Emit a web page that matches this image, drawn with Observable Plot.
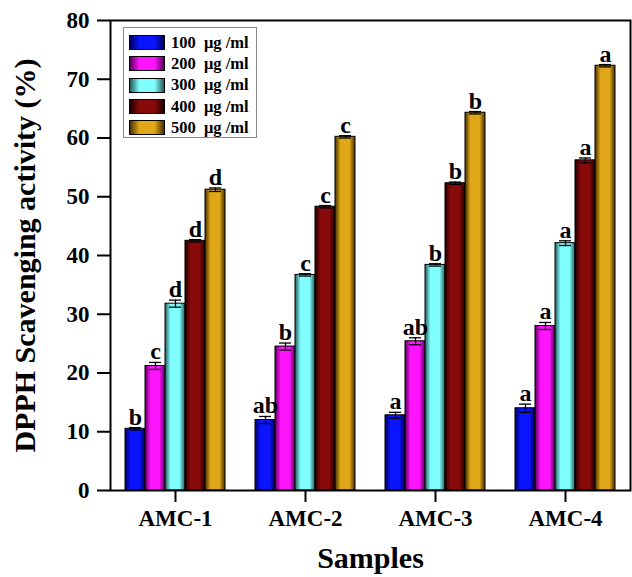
<!DOCTYPE html>
<html>
<head>
<meta charset="utf-8">
<script src="https://cdn.jsdelivr.net/npm/d3@7"></script>
<script src="https://cdn.jsdelivr.net/npm/@observablehq/plot@0.6"></script>
<style>
  body { margin: 0; background: #fff; }
  #wrap { position: relative; width: 632px; height: 577px; }
  svg { font-family: "Liberation Serif", "DejaVu Serif", serif; font-weight: bold; }
  [aria-label="y-axis label"] text, [aria-label="fx-axis label"] text { font-size: 30px; }
  #legend { position: absolute; left: 123px; top: 27px; width: 134px; height: 111px;
    border: 1px solid #888; background: #fff; box-sizing: border-box; padding: 4px 0 0 5px;
    font-family: "Liberation Serif", serif; font-weight: bold; font-size: 16.5px; }
  .row { display: flex; align-items: center; height: 21.3px; }
  .sw { width: 36px; height: 15px; border: 1px solid #000; box-sizing: border-box; margin-right: 6px; }
  .lab { white-space: pre; }
</style>
</head>
<body>
<div id="wrap"></div>
<script>
const samples = ["AMC-1", "AMC-2", "AMC-3", "AMC-4"];
const concentrations = ["100", "200", "300", "400", "500"];
const unit = "μg /ml";
// mean values per concentration, one per sample
const c100 = [10.5, 12.0, 12.8, 14.0];
const c200 = [21.2, 24.5, 25.4, 28.0];
const c300 = [31.8, 36.7, 38.4, 42.1];
const c400 = [42.5, 48.3, 52.3, 56.2];
const c500 = [51.2, 60.2, 64.3, 72.3];
// error (SD)
const e100 = [0.2, 0.6, 0.5, 0.7];
const e200 = [0.6, 0.6, 0.6, 0.6];
const e300 = [0.6, 0.2, 0.2, 0.4];
const e400 = [0.2, 0.2, 0.2, 0.4];
const e500 = [0.3, 0.2, 0.2, 0.2];
// significance letters
const l100 = ["b", "ab", "a", "a"];
const l200 = ["c", "b", "ab", "a"];
const l300 = ["d", "c", "b", "a"];
const l400 = ["d", "c", "b", "a"];
const l500 = ["d", "c", "b", "a"];
const yTicks = [0, 10, 20, 30, 40, 50, 60, 70, 80];

const colorsBase = ["#0a14ff", "#ff14ff", "#80ffff", "#880a0a", "#e0a818"];
const colorsDark = ["#00005a", "#5a005a", "#285a5a", "#200000", "#4a3000"];

const vals = [c100, c200, c300, c400, c500];
const errs = [e100, e200, e300, e400, e500];
const lets = [l100, l200, l300, l400, l500];
const data = [];
samples.forEach((s, i) => concentrations.forEach((c, j) => {
  data.push({sample: s, conc: c, value: vals[j][i], err: errs[j][i], letter: lets[j][i]});
}));
const grads = concentrations.map((c, j) => `url(#grad${j})`);

const plot = Plot.plot({
  width: 632, height: 577,
  marginLeft: 110, marginRight: 2, marginTop: 20, marginBottom: 87,
  style: {fontSize: "20px", fontFamily: "Liberation Serif", fontWeight: "bold", background: "white"},
  fx: {domain: samples, padding: 0, label: null},
  x: {domain: concentrations, paddingInner: 0, paddingOuter: 0.625, axis: null},
  y: {domain: [0, 80]},
  color: {domain: concentrations, range: grads},
  marks: [
    Plot.barY(data, {fx: "sample", x: "conc", y: "value", fill: "conc", stroke: "#000", strokeWidth: 1}),
    Plot.ruleX(data, {fx: "sample", x: "conc", y1: d => d.value - d.err, y2: d => d.value + d.err, stroke: "#000", strokeWidth: 1.3}),
    Plot.tickY(data, {fx: "sample", x: "conc", y: d => d.value + d.err, stroke: "#000", strokeWidth: 1.3, insetLeft: 4, insetRight: 4}),
    Plot.tickY(data, {fx: "sample", x: "conc", y: d => d.value - d.err, stroke: "#000", strokeWidth: 1.3, insetLeft: 4, insetRight: 4}),
    Plot.text(data, {fx: "sample", x: "conc", y: d => d.value + d.err, text: "letter", dy: -3, lineAnchor: "bottom", fontSize: 24, fill: "#000"}),
    Plot.axisY({ticks: yTicks, tickSize: 13, tickPadding: 8, strokeWidth: 2, fontSize: 23, label: null}),
    Plot.axisY({ticks: [], label: "DPPH Scavenging activity (%)", labelArrow: "none", labelAnchor: "center", labelOffset: 97, dy: -17}),
    Plot.axisFx({anchor: "bottom", tickSize: 12, tickPadding: 7, strokeWidth: 2, fontSize: 23,
      label: "Samples", labelArrow: "none", labelAnchor: "center", labelOffset: 77}),
    Plot.frame({facet: "super", stroke: "#000", strokeWidth: 2})
  ]
});

const svg = d3.select(plot);
const defs = svg.insert("defs", ":first-child");
concentrations.forEach((c, j) => {
  const g = defs.append("linearGradient").attr("id", `grad${j}`).attr("x1", "0").attr("x2", "1").attr("y1", "0").attr("y2", "0");
  g.append("stop").attr("offset", "0%").attr("stop-color", colorsDark[j]);
  g.append("stop").attr("offset", "28%").attr("stop-color", colorsBase[j]);
  g.append("stop").attr("offset", "72%").attr("stop-color", colorsBase[j]);
  g.append("stop").attr("offset", "100%").attr("stop-color", colorsDark[j]);
});

const wrap = document.getElementById("wrap");
wrap.appendChild(plot);

const legend = document.createElement("div");
legend.id = "legend";
concentrations.forEach((c, j) => {
  const row = document.createElement("div");
  row.className = "row";
  const sw = document.createElement("div");
  sw.className = "sw";
  sw.style.background = `linear-gradient(to right, ${colorsDark[j]} 0%, ${colorsBase[j]} 28%, ${colorsBase[j]} 72%, ${colorsDark[j]} 100%)`;
  const lab = document.createElement("span");
  lab.className = "lab";
  lab.textContent = `${c}  ${unit}`;
  row.appendChild(sw);
  row.appendChild(lab);
  legend.appendChild(row);
});
wrap.appendChild(legend);
</script>
</body>
</html>
